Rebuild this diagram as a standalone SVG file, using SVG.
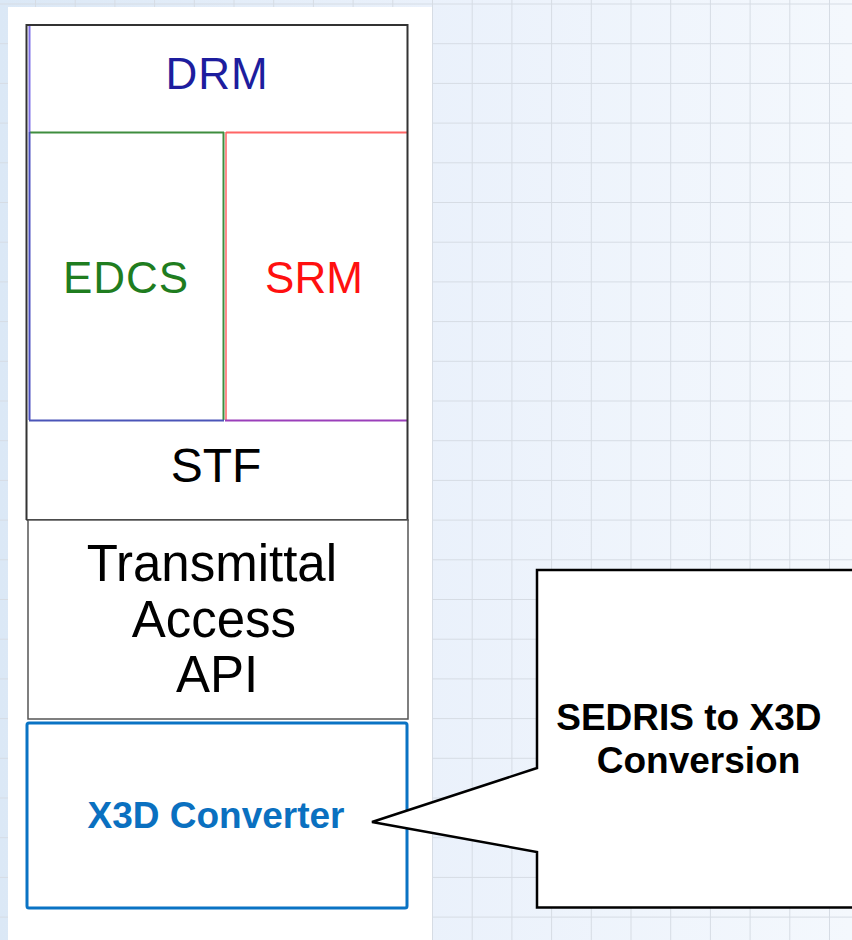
<svg xmlns="http://www.w3.org/2000/svg" width="852" height="940" viewBox="0 0 852 940">
  <defs>
    <linearGradient id="bg" x1="0" y1="0" x2="1" y2="0">
      <stop offset="0" stop-color="#dbe8f6"/>
      <stop offset="0.5" stop-color="#eaf1fb"/>
      <stop offset="1" stop-color="#f4f8fd"/>
    </linearGradient>
    <pattern id="grid" patternUnits="userSpaceOnUse" x="35" y="3.5" width="39.7" height="39.7">
      <path d="M0 0H39.7M0 0V39.7" fill="none" stroke="#d6dce4" stroke-width="2"/>
    </pattern>
  </defs>
  <style>
    .lbl { font-family: "Liberation Sans", Arial, sans-serif; text-anchor: middle; }
    .big { font-size: 44px; }
    .bold { font-weight: bold; font-size: 37px; }
    .frame { fill: none; stroke: #333; stroke-width: 2; }
  </style>

  <!-- backdrop: tinted sheet with a light grid -->
  <rect width="852" height="940" fill="url(#bg)"/>
  <rect width="852" height="940" fill="url(#grid)"/>
  <rect x="8" y="7" width="424" height="933" fill="#ffffff"/>

  <!-- DRM -->
  <g id="drm">
    <rect x="26.5" y="25" width="381" height="107" fill="#fff"/>
    <line x1="29.5" y1="26" x2="29.5" y2="132" stroke="#7f70e6" stroke-width="2"/>
    <text class="lbl big" x="217" y="89" fill="#1d1d9e" letter-spacing="1">DRM</text>
  </g>

  <!-- EDCS -->
  <g id="edcs">
    <line x1="30" y1="132.5" x2="224" y2="132.5" stroke="#3f8d3f" stroke-width="2"/>
    <line x1="223.5" y1="132" x2="223.5" y2="420" stroke="#3f8d3f" stroke-width="2"/>
    <line x1="29.5" y1="132" x2="29.5" y2="420" stroke="#4a4fc0" stroke-width="2"/>
    <line x1="29" y1="420.5" x2="224" y2="420.5" stroke="#4a55b8" stroke-width="2"/>
    <text class="lbl big" x="126" y="293" fill="#1f7d1f" letter-spacing="1">EDCS</text>
  </g>

  <!-- SRM -->
  <g id="srm">
    <line x1="226" y1="132.5" x2="407" y2="132.5" stroke="#ff6565" stroke-width="2"/>
    <line x1="226" y1="132" x2="226" y2="420" stroke="#ff6565" stroke-width="1.5"/>
    <line x1="225" y1="420.5" x2="407" y2="420.5" stroke="#9a3fba" stroke-width="2"/>
    <text class="lbl big" x="314" y="293" fill="#ff1010">SRM</text>
  </g>

  <!-- STF, closing the outer frame -->
  <g id="stf">
    <path class="frame" d="M26.5 520V25H407.5V520H26.5"/>
    <text class="lbl" x="216" y="482" font-size="48" fill="#000">STF</text>
  </g>

  <!-- Transmittal Access API -->
  <g id="transmittal-access-api">
    <rect x="28" y="520" width="380" height="199" fill="#fff" stroke="#555" stroke-width="1.5"/>
    <text class="lbl" font-size="51" fill="#000">
      <tspan x="219" y="581">Transmittal</tspan>
      <tspan x="221" y="637">Access</tspan>
      <tspan x="217" y="692">API</tspan>
    </text>
  </g>

  <!-- X3D Converter -->
  <g id="x3d-converter">
    <rect x="27" y="723" width="380" height="185" rx="2" fill="#fff" stroke="#0a73c4" stroke-width="3"/>
    <text class="lbl bold" x="216" y="828" fill="#0a70c0">X3D Converter</text>
  </g>

  <!-- callout pointing at the converter -->
  <g id="connectors">
    <path id="callout" d="M860 570H537V768L372 822L537 852V907.5H860" fill="#fff" stroke="#000" stroke-width="2.5" stroke-linejoin="miter"/>
  </g>
  <g id="sedris-to-x3d">
    <text class="lbl bold" fill="#000">
      <tspan x="694" y="730">SEDRIS to X3D</tspan>
      <tspan x="698.5" y="773">Conversion</tspan>
    </text>
  </g>
</svg>
